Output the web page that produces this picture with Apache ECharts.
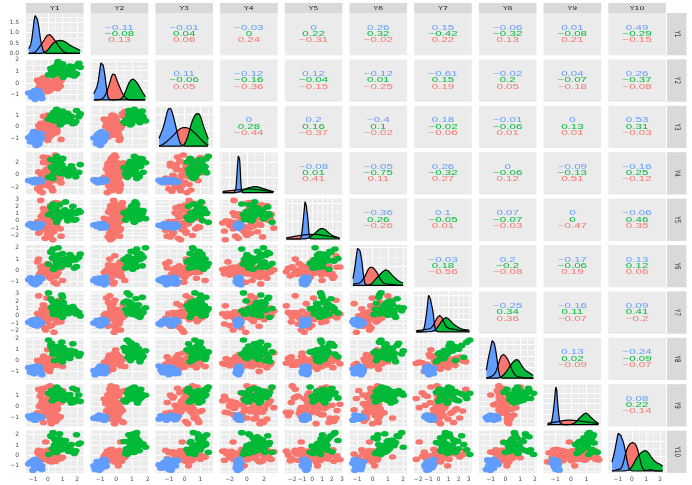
<!DOCTYPE html>
<html>
<head>
<meta charset="utf-8">
<script src="https://cdn.jsdelivr.net/npm/echarts@6.0.0/dist/echarts.min.js"></script>
<style>
  html, body { margin: 0; padding: 0; background: #ffffff; }
  #pairs { width: 692px; height: 485px; }
</style>
</head>
<body>
<div id="pairs"></div>
<script>
const varNames = ["Y1", "Y2", "Y3", "Y4", "Y5", "Y6", "Y7", "Y8", "Y9", "Y10"];
const axisMin = [-1.48, -1.6, -1.85, -3.1, -2.75, -1.5, -2.4, -1.8, -1.75, -1.68];
const axisMax = [2.43, 2.03, 1.8, 3.55, 3.05, 2.25, 3.3, 2.1, 1.95, 2.4];
const majorBreaks = [
  [-1, 0, 1, 2], [-1, 0, 1, 2], [-1, 0, 1], [-2, 0, 2], [-2, -1, 0, 1, 2, 3],
  [-1, 0, 1, 2], [-2, -1, 0, 1, 2, 3], [-1, 0, 1, 2], [-1, 0, 1], [-1, 0, 1, 2]
];

// group "red" observations
const redY1 = [0.08,-0.25,0.4,-0.08,0.62,0.2,-0.45,0.04,0.3,-0.15,0.85,-0.32,0.12,0.5,-0.02,0.24,-0.58,0.36,0,0.7,-0.2,0.16,0.45,-0.38,0.1,-0.1,0.55,0.28,-0.28,0.06,1,-0.18,0.38,-0.7,0.14,0.52,-0.05,0.22,-0.48,0.02,0.32,-0.52,0.66,-0.22,0.18,0.9,-0.06,0.42,-0.3,0.26,-0.62,0.58,0,-0.14,0.76,0.12,-0.4,0.34,-0.01,0.6];
const redY2 = [-0.15,0.1,-0.35,0.02,-0.22,-0.08,0.3,-0.5,-0.12,0.15,-0.28,-0.02,-0.65,0.4,-0.18,-0.1,0.05,-0.42,0.2,-0.25,-0.05,-0.32,0.12,-0.55,-0.14,-0.2,0.35,-0.3,0,-0.45,0.55,-0.22,-0.06,0.25,-0.38,-0.1,-0.75,0.08,-0.16,-0.28,-0.24,0.18,-0.48,-0.04,-0.34,0.22,-0.6,-0.12,0.45,-0.2,-0.4,0.06,-0.26,0.28,-0.08,-0.52,0.14,-0.36,-0.02,-0.18];
const redY3 = [0.25,-0.6,0.1,0.55,-0.3,0.85,-0.05,-0.9,0.4,-0.15,0.7,-0.45,0,1.1,-0.75,0.2,-0.25,0.6,-1.2,0.35,-0.1,0.5,-0.55,0.15,0.95,-0.35,0.05,-0.7,0.3,-0.2,1.3,-0.4,0.45,-1,0.12,-0.08,0.65,-0.5,0.28,-0.18,0.5,-0.8,0.2,-0.3,0.75,-1.1,0.35,-0.05,0.9,-0.6,0.1,-0.4,1,-0.15,0.6,-0.9,0.25,-0.25,0.8,-0.5];
const redY4 = [0.5,-1.6,1.2,-0.3,2.2,-0.9,0.1,1.8,-2.4,0.7,-0.6,2.8,-1.2,0.3,-0.1,1.5,-2,0.9,-0.5,2.5,-1.4,0,1,-2.8,0.4,-0.8,1.7,-0.2,2,-1.8,0.6,-1,1.3,-2.2,0.2,3.1,-0.4,0.8,-1.5,-0.05,1.1,-2.6,0.3,-0.7,2.3,-1.3,0.9,-0.15,1.9,-2,0.45,-0.9,2.7,-1.6,0,1.4,-0.3,-2.5,0.75,1.6];
const redY5 = [-0.4,1.1,-1.5,0.3,2,-0.8,0.6,-2.2,0,1.5,-1.1,0.9,-0.2,2.5,-1.8,0.4,-0.6,1.3,-1.3,0.1,0.7,-2,1.8,-0.3,-0.9,0.5,2.2,-1.6,0.2,-0.5,1,-2.4,0.8,-0.1,1.6,-1,0.35,-0.7,2.8,-1.2,0.6,-1.4,1.2,-0.3,2.1,-2.1,0.15,-0.8,1.7,-0.05,-1.7,0.95,0.3,-1.1,2.4,-0.45,0.55,-2.6,1.4,-0.6];
const redY6 = [-0.1,0.2,-0.35,0.05,-0.25,0.35,-0.05,-0.5,0.15,-0.2,0.45,-0.12,-0.6,0.28,-0.3,0,-0.42,0.1,0.6,-0.22,-0.08,0.32,-0.38,0.08,-0.16,0.4,-0.55,0.02,-0.28,0.25,-0.9,0.18,-0.06,0.75,-0.33,0.06,-0.18,-0.46,0.3,-0.14,0.12,-0.3,0.5,-0.1,-0.7,0.22,-0.02,-1.05,0.38,-0.24,1,-0.4,0.04,-0.2,1.3,-0.62,0.14,-0.12,0.3,-1.2];
const redY7 = [0.1,-0.2,0.35,0,0.5,-0.35,0.15,0.25,-0.1,0.6,-0.45,0.05,0.3,-0.25,0.45,0.2,-0.05,0.4,-0.3,0.12,0.55,-0.15,0.08,0.28,-0.4,0.18,-0.02,0.38,-0.5,0.22,0.02,0.48,-0.22,0.32,-0.12,0.65,0.14,-0.32,0.26,-0.08,1.2,-1.1,1.8,-1.6,0.95,-0.8,2.4,-2.2,1.5,-1.3,2.7,-0.9,1.05,-1.9,2.1,-1.4,0.9,1.35,-0.75,1.65];
const redY8 = [-0.2,0.1,-0.38,0,-0.1,0.25,-0.5,-0.05,0.18,-0.28,0.38,-0.15,-0.62,0.08,-0.42,0.22,-0.08,0.5,-0.32,-0.18,0.05,-0.45,0.3,-0.25,-0.02,-0.8,0.15,-0.35,0.42,-0.12,-0.55,0.2,-0.22,0.02,-0.4,0.7,-0.16,0.12,-0.3,-0.06,0.06,-0.34,0.26,-0.2,-0.65,0.35,-0.04,-0.26,0.16,-0.48,-0.1,0.55,-0.36,-0.14,0.32,-1,0.1,-0.24,1,-0.44];
const redY9 = [0.4,-0.7,0.9,-0.2,0.1,-1.2,1.3,-0.5,0.6,-0.05,-0.9,1.6,0.25,-0.35,0.75,-1.5,0,1.1,-0.6,0.3,-0.15,1.8,-1,0.5,-0.45,0.15,-1.3,0.85,-0.25,0.45,1.4,-0.8,0.05,-0.55,1,-0.1,0.65,-1.1,0.2,-0.3,-0.6,0.9,-0.2,1.2,-1.1,0.35,-0.4,0.7,-1.4,0.1,1.5,-0.75,0.5,-0.1,-1,1,0.25,-0.5,1.7,-0.3];
const redY10 = [0.1,-0.3,0.25,-0.05,0.45,-0.2,0.02,-0.5,0.18,-0.12,0.6,-0.38,0.12,-0.02,0.35,-0.62,0.06,-0.25,0.5,-0.15,0.22,-0.42,0,0.42,-0.08,0.3,-0.55,0.15,-0.28,0.4,-0.18,0.04,-0.5,0.28,-0.34,0.35,-0.06,0.2,-0.4,0.1,0.16,-0.46,0.38,-0.1,0.55,-0.3,0.08,-0.38,0.26,-0.2,0.5,-0.04,-0.36,1.3,-0.14,0.32,-1,0.42,-0.22,0.14];

// group "green" observations
const greenY1 = [0.9,1.4,0.5,1.1,0.2,1.8,0.75,1.25,0.35,0.95,2.1,0.6,1.05,1.5,0.4,0.85,1.6,0.05,1.2,0.7,1.95,0.55,1,1.35,0.3,0.8,1.7,0.65,1.15,0.45,1.3,0.6,1.9,0.25,1,1.55,0.8,2.2,0.45,1.15];
const greenY2 = [1.1,0.75,1.4,0.95,1.25,0.6,1.55,1,1.3,0.85,1.7,1.15,0.5,1.45,1.05,0.9,1.35,0.7,1.2,1.85,0.8,1,1.5,1.12,0.65,1.28,0.98,1.6,1.08,0.88,1.2,0.8,1.45,0.95,1.65,0.7,1.1,1.35,0.9,1.25];
const greenY3 = [0.8,0.45,1.1,0.6,0.95,0.3,1.3,0.7,0.55,1,0.85,1.5,0.4,0.75,1.2,0.15,0.9,0.65,1.05,0.5,1.4,0.78,0.35,1.15,0.6,0.88,0.25,0.98,0.72,1.25,0.7,1.05,0.45,0.9,1.35,0.6,0.82,1.1,0.5,0.95];
const greenY4 = [1,-0.2,1.8,0.5,2.4,0.2,1.3,0.8,-0.6,1.6,0.4,2.9,1.1,0,0.7,2,1.4,-0.4,0.9,1.9,0.3,1.2,2.6,0.6,-0.1,1.5,0.85,2.2,0.1,1.05,0.5,1.7,-0.3,1.2,2.5,0.8,0.2,1.6,2.1,0.95];
const greenY5 = [1,0.4,1.5,0.8,1.9,0.1,1.2,0.6,2.3,0.95,1.4,-0.2,1.1,0.7,1.7,0.5,1.3,0.85,2.6,0.3,1.05,1.6,0.75,0,1.25,0.9,2,0.55,1.15,1.45,0.8,1.35,0.2,1.8,1,0.65,2.2,1.2,0.45,1.5];
const greenY6 = [0.9,0.5,1.3,0.7,1.6,0.2,1,0.8,1.9,0.45,1.15,0.6,0.95,1.4,0.1,0.75,1.2,0.55,1.05,2,0.35,0.85,1.5,0.65,1.1,0.3,0.88,1.35,0.72,1,0.6,1.25,0.95,1.7,0.4,1.05,0.8,1.45,0.25,0.9];
const greenY7 = [0.8,0.3,1.5,0.6,2.3,0.9,0.1,1.2,0.7,2.8,0.45,1,1.8,0.55,0.2,1.35,0.85,3.1,0.4,1.1,0.65,1.6,-0.2,0.95,2,0.5,1.25,0.75,0.35,1.4,0.7,1.9,0.25,1.15,2.5,0.6,1.05,0,1.7,0.9];
const greenY8 = [0.7,0.3,1.1,0.5,1.4,0.85,0.1,0.95,0.6,1.7,0.4,0.8,1.2,0.2,0.75,1,0.55,1.9,0.35,0.9,0.65,1.3,-0.1,0.8,1.05,0.45,1.55,0.6,0.25,0.88,0.5,1.15,0.75,1.6,0.3,0.95,1.35,0.65,0,0.85];
const greenY9 = [0.95,0.6,1.3,0.8,1.1,0.4,1.5,0.9,1.2,0.7,1,1.7,0.55,1.05,0.85,1.35,0.3,1.15,0.75,0.98,1.45,0.65,1.25,0.88,0.5,1.08,1.6,0.78,1.02,0.92,0.85,1.2,0.6,1.4,1,0.7,1.1,0.45,1.3,0.9];
const greenY10 = [1,0.4,1.5,0.7,1.9,0.2,1.2,0.85,2.2,0.55,1.1,0.3,1.35,0.95,1.7,0.6,1.05,0.1,1.45,0.8,2,0.5,1.25,0.9,0.65,1.6,0.35,1.15,0.75,1,0.85,1.4,0.45,1.8,1.05,0.6,2.1,1.2,0.3,0.95];

// group "blue" observations
const blueY1 = [-0.82,-0.61,-1.05,-0.74,-0.93,-0.55,-0.88,-1.18,-0.69,-0.79,-0.98,-0.4,-0.84,-0.71,-1.3,-0.9,-0.63,-0.77,-1.01,-0.58,-0.86,-0.95,-0.66,-0.8,-0.72,-1.08,-0.6,-0.9,-0.45,-0.85];
const blueY2 = [-1.02,-0.78,-0.91,-1.25,-0.7,-0.95,-1.1,-0.83,-0.62,-1,-0.88,-1.32,-0.75,-0.97,-0.85,-1.15,-0.68,-0.92,-1.05,-0.8,-1.4,-0.9,-0.73,-0.99,-0.85,-1.2,-0.95,-0.65,-1.08,-0.82];
const blueY3 = [-0.7,-1.2,-0.95,-1.45,-0.6,-1.05,-0.82,-1.3,-0.88,-1.62,-0.5,-1,-1.15,-0.75,-0.93,-1.38,-0.65,-1.1,-0.85,-1.25,-0.98,-0.42,-1.02,-0.8,-1.18,-0.72,-1.5,-0.9,-0.58,-1.08];
const blueY4 = [-0.95,-0.8,-1.1,-0.88,-1.02,-0.75,-1.18,-0.92,-1,-0.85,-1.12,-0.97,-0.7,-1.05,-0.9,-1.25,-0.82,-0.98,-1.08,-0.93,-0.78,-1.15,-0.96,-0.87,-1,-0.84,-1.1,-0.91,-1.04,-0.8];
const blueY5 = [-0.6,-0.82,-0.45,-0.7,-0.95,-0.58,-0.66,-0.38,-0.77,-0.62,-0.88,-0.5,-0.72,-1,-0.55,-0.68,-0.8,-0.42,-0.63,-0.9,-0.57,-0.74,-0.48,-0.69,-0.52,-0.78,-0.65,-0.86,-0.4,-0.7];
const blueY6 = [-0.88,-1.05,-0.72,-0.95,-1.2,-0.8,-0.92,-0.65,-1.1,-0.86,-0.98,-0.75,-1.28,-0.9,-0.83,-1,-0.6,-0.94,-1.15,-0.78,-0.89,-1.02,-0.7,-0.96,-0.82,-1.08,-0.76,-0.99,-0.68,-1.12];
const blueY7 = [-0.9,-0.62,-1.12,-0.8,-0.5,-0.98,-1.25,-0.72,-0.88,-1.05,-0.58,-0.95,-0.78,-1.35,-0.86,-0.66,-1.02,-0.45,-1.15,-0.84,-0.95,-0.7,-1.08,-0.9,-1,-0.6,-1.2,-0.78,-0.92,-0.52];
const blueY8 = [-0.75,-1,-0.6,-0.9,-1.2,-0.82,-0.68,-1.08,-0.95,-0.5,-0.88,-1.3,-0.78,-0.98,-0.65,-1.12,-0.85,-0.72,-1.02,-0.58,-0.92,-1.18,-0.8,-0.87,-0.7,-1.05,-0.9,-0.62,-1.15,-0.8];
const blueY9 = [-0.95,-1.05,-0.85,-0.98,-1.15,-0.9,-0.8,-1.02,-0.93,-1.1,-0.88,-0.97,-1.2,-0.92,-0.83,-1,-0.96,-1.08,-0.75,-0.94,-1.03,-0.89,-0.99,-0.91,-0.9,-1.06,-0.82,-1,-0.94,-1.12];
const blueY10 = [-0.8,-1.12,-0.6,-0.95,-0.42,-1.25,-0.85,-0.66,-1.05,-0.9,-0.5,-1.35,-0.74,-0.98,-0.82,-1.18,-0.62,-0.9,-1.42,-0.7,-1,-0.52,-0.88,-1.08,-0.95,-0.58,-1.22,-0.7,-1.02,-0.36];

// correlation labels of the upper panels, per row (blue, green, red)
const corBlue = [
  ["-0.11","-0.01","-0.03","0","0.26","0.15","-0.06","0.01","0.49"],
  ["0.11","-0.12","0.12","-0.12","-0.61","-0.02","0.04","0.26"],
  ["0","0.2","-0.4","0.18","-0.01","0","0.53"],
  ["-0.08","-0.05","0.26","0","-0.09","-0.16"],
  ["-0.36","0.1","0.07","0","-0.06"],
  ["-0.03","0.2","-0.17","0.13"],
  ["-0.25","-0.16","0.09"],
  ["0.13","-0.24"],
  ["0.08"]
];
const corGreen = [
  ["-0.08","0.04","0","0.22","0.32","-0.42","-0.32","-0.08","-0.29"],
  ["-0.06","-0.16","-0.04","0.01","0.15","0.2","-0.07","-0.37"],
  ["0.28","0.16","0.1","-0.02","-0.06","0.13","0.31"],
  ["0.01","-0.75","-0.32","-0.06","-0.13","0.25"],
  ["0.26","-0.05","-0.07","0","0.46"],
  ["0.18","-0.2","-0.06","0.12"],
  ["0.34","0.11","0.41"],
  ["0.02","-0.09"],
  ["0.22"]
];
const corRed = [
  ["0.13","0.06","0.24","-0.31","-0.02","0.22","0.13","0.21","-0.15"],
  ["0.05","-0.36","-0.15","-0.25","0.19","0.05","-0.18","-0.08"],
  ["-0.44","-0.37","-0.02","-0.06","0.01","0.01","-0.03"],
  ["0.41","0.11","0.27","0.12","0.51","-0.12"],
  ["-0.26","0.01","-0.03","-0.47","0.35"],
  ["-0.56","-0.08","0.19","0.06"],
  ["0.36","-0.07","-0.2"],
  ["-0.09","-0.07"],
  ["-0.14"]
];

const RED = "#F8766D", GREEN = "#00BA38", BLUE = "#619CFF";
// drawn in this order, like ggplot's factor order
const groups = [
  { color: RED, cols: [redY1, redY2, redY3, redY4, redY5, redY6, redY7, redY8, redY9, redY10] },
  { color: GREEN, cols: [greenY1, greenY2, greenY3, greenY4, greenY5, greenY6, greenY7, greenY8, greenY9, greenY10] },
  { color: BLUE, cols: [blueY1, blueY2, blueY3, blueY4, blueY5, blueY6, blueY7, blueY8, blueY9, blueY10] }
];

// panel layout
const LEFT = 26, TOP = 13, COL_STEP = 64.7, ROW_STEP = 46.4, PANEL_W = 57.6, PANEL_H = 42.3;
const colLeft = j => LEFT + j * COL_STEP;
const rowTop = i => TOP + i * ROW_STEP;

const minus = s => String(s).replace("-", "\u2212");

// gaussian kernel density, bandwidth like R's bw.nrd0
function density(values, lo, hi) {
  const n = values.length;
  const mean = values.reduce((a, b) => a + b, 0) / n;
  const sd = Math.sqrt(values.reduce((a, b) => a + (b - mean) * (b - mean), 0) / (n - 1));
  const s = values.slice().sort((a, b) => a - b);
  const q = p => {
    const h = (n - 1) * p, l = Math.floor(h);
    const u = Math.min(l + 1, n - 1);
    return s[l] + (h - l) * (s[u] - s[l]);
  };
  const iqr = q(0.75) - q(0.25);
  const bw = 0.9 * Math.min(sd, iqr / 1.34) * Math.pow(n, -0.2);
  const pts = [];
  const steps = 160;
  for (let t = 0; t <= steps; t++) {
    const x = lo + (hi - lo) * t / steps;
    let d = 0;
    values.forEach(v => { const z = (x - v) / bw; d += Math.exp(-0.5 * z * z); });
    pts.push([x, d / (n * bw * Math.sqrt(2 * Math.PI))]);
  }
  return pts;
}

function prettyBreaks(maxVal) {
  const steps = [0.1, 0.2, 0.25, 0.5, 1, 2];
  const step = steps.find(st => maxVal / st <= 4) || 2;
  const out = [];
  for (let v = 0; v <= maxVal * 1.05 + 1e-9; v += step) out.push(Math.round(v * 100) / 100);
  return out;
}

function minorBreaks(majors, lo, hi) {
  const step = majors[1] - majors[0];
  const out = [];
  for (let v = majors[0] - step / 2; v <= hi; v += step) {
    if (v >= lo) out.push(Math.round(v * 1000) / 1000);
  }
  return out;
}

const chart = echarts.init(document.getElementById("pairs"), null, { renderer: "canvas" });

const grid = [], xAxis = [], yAxis = [], series = [], graphic = [];
const labelFont = { fontFamily: "DejaVu Sans", fontSize: 6, color: "#4D4D4D" };
const tickStyle = { color: "#333333", width: 0.6 };

for (let i = 0; i < 10; i++) {
  for (let j = 0; j < 10; j++) {
    const k = grid.length;
    grid.push({
      left: colLeft(j), top: rowTop(i), width: PANEL_W, height: PANEL_H,
      show: true, backgroundColor: "#EBEBEB", borderWidth: 0,
      containLabel: false, outerBoundsMode: "none"
    });

    if (j > i) {
      // correlation panel
      xAxis.push({ gridIndex: k, type: "value", show: false, min: 0, max: 1 });
      yAxis.push({ gridIndex: k, type: "value", show: false, min: 0, max: 1 });
      const cx = colLeft(j) + PANEL_W / 2, cy = rowTop(i) + PANEL_H / 2;
      const texts = [corBlue[i][j - i - 1], corGreen[i][j - i - 1], corRed[i][j - i - 1]];
      const cols = [BLUE, GREEN, RED];
      texts.forEach((t, r) => {
        graphic.push({
          type: "text", x: cx, y: cy + (r - 1) * 6.3, scaleX: 1.75, z: 100, silent: true,
          style: {
            text: minus(t), x: 0, y: 0, fill: cols[r],
            font: "6.6px 'Liberation Sans'", textAlign: "center", textVerticalAlign: "middle"
          }
        });
      });
      continue;
    }

    // x axis: variable j
    xAxis.push({
      gridIndex: k, type: "value", min: axisMin[j], max: axisMax[j], offset: 1.5,
      axisLine: { show: false }, splitLine: { show: false },
      axisTick: { show: i === 9, customValues: majorBreaks[j], length: 2, lineStyle: tickStyle },
      axisLabel: Object.assign({ show: i === 9, customValues: majorBreaks[j], margin: 2.5, formatter: v => minus(v) }, labelFont)
    });

    let yMin, yMax, yMajors, yFmt;
    const lines = [];
    if (i === j) {
      const lo = Math.min(...groups.map(g => Math.min(...g.cols[j])));
      const hi = Math.max(...groups.map(g => Math.max(...g.cols[j])));
      const curves = groups.map(g => density(g.cols[j], lo, hi));
      const top = Math.max(...curves.map(c => Math.max(...c.map(p => p[1]))));
      yMin = -0.05 * top; yMax = 1.05 * top;
      yMajors = prettyBreaks(top);
      yFmt = v => v.toFixed(1);
      curves.forEach((c, g) => {
        series.push({
          type: "line", xAxisIndex: k, yAxisIndex: k, data: c, showSymbol: false, silent: true,
          z: 10, animation: false,
          lineStyle: { color: "#000000", width: 1.2 },
          areaStyle: { color: groups[g].color, opacity: 1, origin: 0 }
        });
      });
    } else {
      yMin = axisMin[i]; yMax = axisMax[i];
      yMajors = majorBreaks[i];
      yFmt = v => minus(v);
      groups.forEach(g => {
        const xs = g.cols[j], ys = g.cols[i];
        const n = Math.min(xs.length, ys.length);
        const pts = [];
        for (let p = 0; p < n; p++) pts.push([xs[p], ys[p]]);
        series.push({
          type: "scatter", xAxisIndex: k, yAxisIndex: k, data: pts, silent: true, z: 10,
          animation: false, symbol: "circle", symbolSize: [7.6, 5.6],
          itemStyle: { color: g.color, opacity: 1 }
        });
      });
    }

    yAxis.push({
      gridIndex: k, type: "value", min: yMin, max: yMax, offset: 5,
      axisLine: { show: false }, splitLine: { show: false },
      axisTick: { show: j === 0, customValues: yMajors, length: 2.5, lineStyle: tickStyle },
      axisLabel: Object.assign({ show: j === 0, customValues: yMajors, margin: 2, formatter: yFmt }, labelFont)
    });

    // white panel grid lines
    majorBreaks[j].forEach(v => lines.push({ xAxis: v, lineStyle: { width: 1 } }));
    minorBreaks(majorBreaks[j], axisMin[j], axisMax[j]).forEach(v => lines.push({ xAxis: v, lineStyle: { width: 0.5 } }));
    yMajors.forEach(v => lines.push({ yAxis: v, lineStyle: { width: 1 } }));
    minorBreaks(yMajors, yMin, yMax).forEach(v => lines.push({ yAxis: v, lineStyle: { width: 0.5 } }));
    series.push({
      type: "scatter", xAxisIndex: k, yAxisIndex: k, data: [], silent: true, z: 1, animation: false,
      markLine: {
        silent: true, animation: false, symbol: ["none", "none"], label: { show: false },
        lineStyle: { color: "#FFFFFF", type: "solid", opacity: 1 },
        emphasis: { disabled: true },
        data: lines
      }
    });
  }
}

// facet strips
varNames.forEach((name, j) => {
  graphic.push({
    type: "rect", z: 50, silent: true,
    shape: { x: colLeft(j), y: 3, width: PANEL_W, height: 10 },
    style: { fill: "#D9D9D9" }
  });
  graphic.push({
    type: "text", x: colLeft(j) + PANEL_W / 2, y: 8.2, scaleX: 1.4, z: 51, silent: true,
    style: { text: name, x: 0, y: 0, fill: "#1A1A1A", font: "5.5px 'DejaVu Sans'", textAlign: "center", textVerticalAlign: "middle" }
  });
});
varNames.forEach((name, i) => {
  graphic.push({
    type: "rect", z: 50, silent: true,
    shape: { x: 667, y: rowTop(i), width: 19.5, height: PANEL_H },
    style: { fill: "#D9D9D9" }
  });
  graphic.push({
    type: "text", x: 676.5, y: rowTop(i) + PANEL_H / 2, rotation: -Math.PI / 2, scaleY: 1.4, z: 51, silent: true,
    style: { text: name, x: 0, y: 0, fill: "#1A1A1A", font: "5.5px 'DejaVu Sans'", textAlign: "center", textVerticalAlign: "middle" }
  });
});

chart.setOption({
  animation: false,
  backgroundColor: "#FFFFFF",
  grid: grid,
  xAxis: xAxis,
  yAxis: yAxis,
  series: series,
  graphic: graphic
});

window.addEventListener("resize", function () {
  chart.resize();
});
</script>
</body>
</html>
